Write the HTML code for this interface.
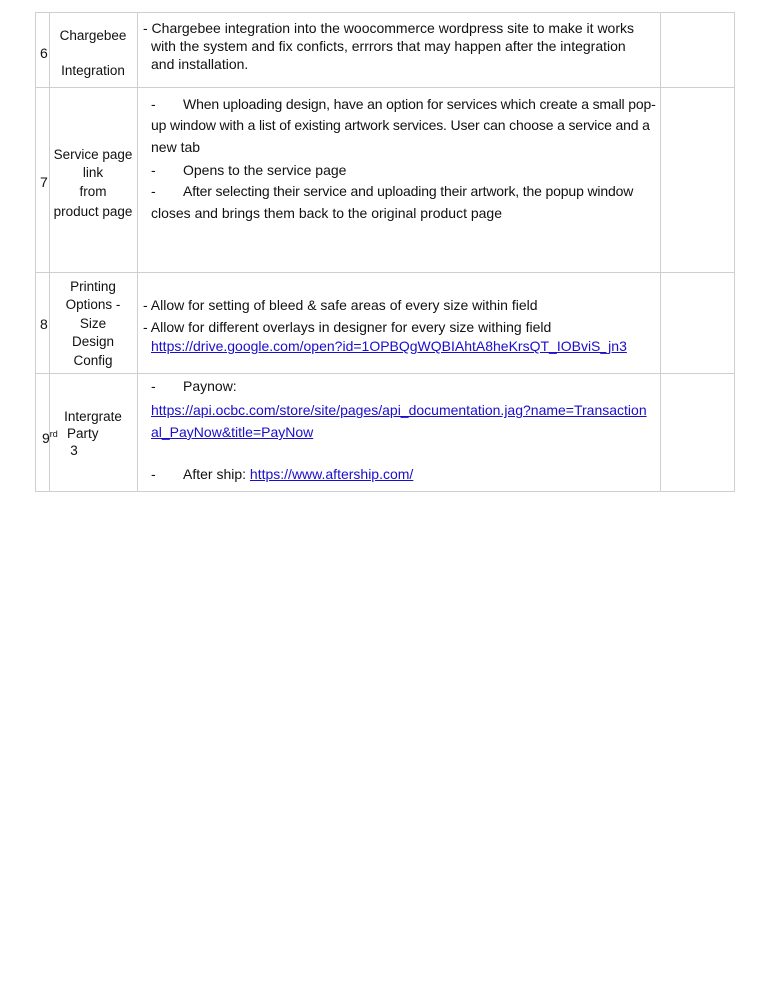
<!DOCTYPE html>
<html><head><meta charset="utf-8"><style>
body{margin:0;width:768px;height:994px;background:#fff;position:relative;font-family:"Liberation Sans",sans-serif;font-size:14px;color:#111;overflow:hidden}
.t{position:absolute;line-height:16px;white-space:nowrap}
.c{position:absolute;text-align:center;line-height:16px;white-space:nowrap;font-size:13.5px}
.h{position:absolute;background:#cfcfcf;height:1px}
.v{position:absolute;background:#cfcfcf;width:1px}
.n{letter-spacing:-0.15px}
a{color:#1a0dcc;text-decoration:underline}
</style></head><body>
<div class="h" style="left:35px;width:700px;top:12px"></div>
<div class="h" style="left:35px;width:700px;top:87px"></div>
<div class="h" style="left:35px;width:700px;top:272px"></div>
<div class="h" style="left:35px;width:700px;top:373px"></div>
<div class="h" style="left:35px;width:700px;top:491px"></div>
<div class="v" style="left:35px;top:12px;height:480px"></div>
<div class="v" style="left:49px;top:12px;height:480px"></div>
<div class="v" style="left:137px;top:12px;height:480px"></div>
<div class="v" style="left:660px;top:12px;height:480px"></div>
<div class="v" style="left:734px;top:12px;height:480px"></div>

<div class="t" style="left:40px;top:45px">6</div>
<div class="c" style="left:49px;width:88px;top:28px">Chargebee</div>
<div class="c" style="left:49px;width:88px;top:63px">Integration</div>
<div class="t" style="left:143px;top:20px">- Chargebee integration into the woocommerce wordpress site to make it works</div>
<div class="t" style="left:151px;top:38px">with the system and fix conficts, errrors that may happen after the integration</div>
<div class="t" style="left:151px;top:56px">and installation.</div>

<div class="t" style="left:40px;top:174px">7</div>
<div class="c" style="left:49px;width:88px;top:147px">Service page</div>
<div class="c" style="left:49px;width:88px;top:165px">link</div>
<div class="c" style="left:49px;width:88px;top:184px">from</div>
<div class="c" style="left:49px;width:88px;top:204px">product page</div>
<div class="t" style="left:151px;top:96px">-</div><div class="t n" style="left:183px;top:96px">When uploading design, have an option for services which create a small pop-</div>
<div class="t n" style="left:151px;top:117px">up window with a list of existing artwork services. User can choose a service and a</div>
<div class="t" style="left:151px;top:139px">new tab</div>
<div class="t" style="left:151px;top:162px">-</div><div class="t" style="left:183px;top:162px">Opens to the service page</div>
<div class="t" style="left:151px;top:183px">-</div><div class="t n" style="left:183px;top:183px">After selecting their service and uploading their artwork, the popup window</div>
<div class="t" style="left:151px;top:205px">closes and brings them back to the original product page</div>

<div class="t" style="left:40px;top:316px">8</div>
<div class="c" style="left:49px;width:88px;top:279px">Printing</div>
<div class="c" style="left:49px;width:88px;top:297px">Options -</div>
<div class="c" style="left:49px;width:88px;top:316px">Size</div>
<div class="c" style="left:49px;width:88px;top:334px">Design</div>
<div class="c" style="left:49px;width:88px;top:353px">Config</div>
<div class="t" style="left:143px;top:297px">- Allow for setting of bleed &amp; safe areas of every size within field</div>
<div class="t" style="left:143px;top:319px">- Allow for different overlays in designer for every size withing field</div>
<div class="t" style="left:151px;top:338px"><a>https://drive.google.com/open?id=1OPBQgWQBIAhtA8heKrsQT_IOBviS_jn3</a></div>

<div class="t" style="left:42px;top:426px">9<sup style="font-size:9px;vertical-align:6px">rd</sup></div>
<div class="c" style="left:49px;width:88px;top:409px">Intergrate</div>
<div class="t" style="left:67px;top:426px;font-size:13.5px">Party</div>
<div class="c" style="left:49px;width:50px;top:443px">3</div>
<div class="t" style="left:151px;top:378px">-</div><div class="t" style="left:183px;top:378px">Paynow:</div>
<div class="t" style="left:151px;top:402px"><a>https://api.ocbc.com/store/site/pages/api_documentation.jag?name=Transaction</a></div>
<div class="t" style="left:151px;top:424px"><a>al_PayNow&amp;title=PayNow</a></div>
<div class="t" style="left:151px;top:466px">-</div><div class="t" style="left:183px;top:466px">After ship: <a>https://www.aftership.com/</a></div>
</body></html>
